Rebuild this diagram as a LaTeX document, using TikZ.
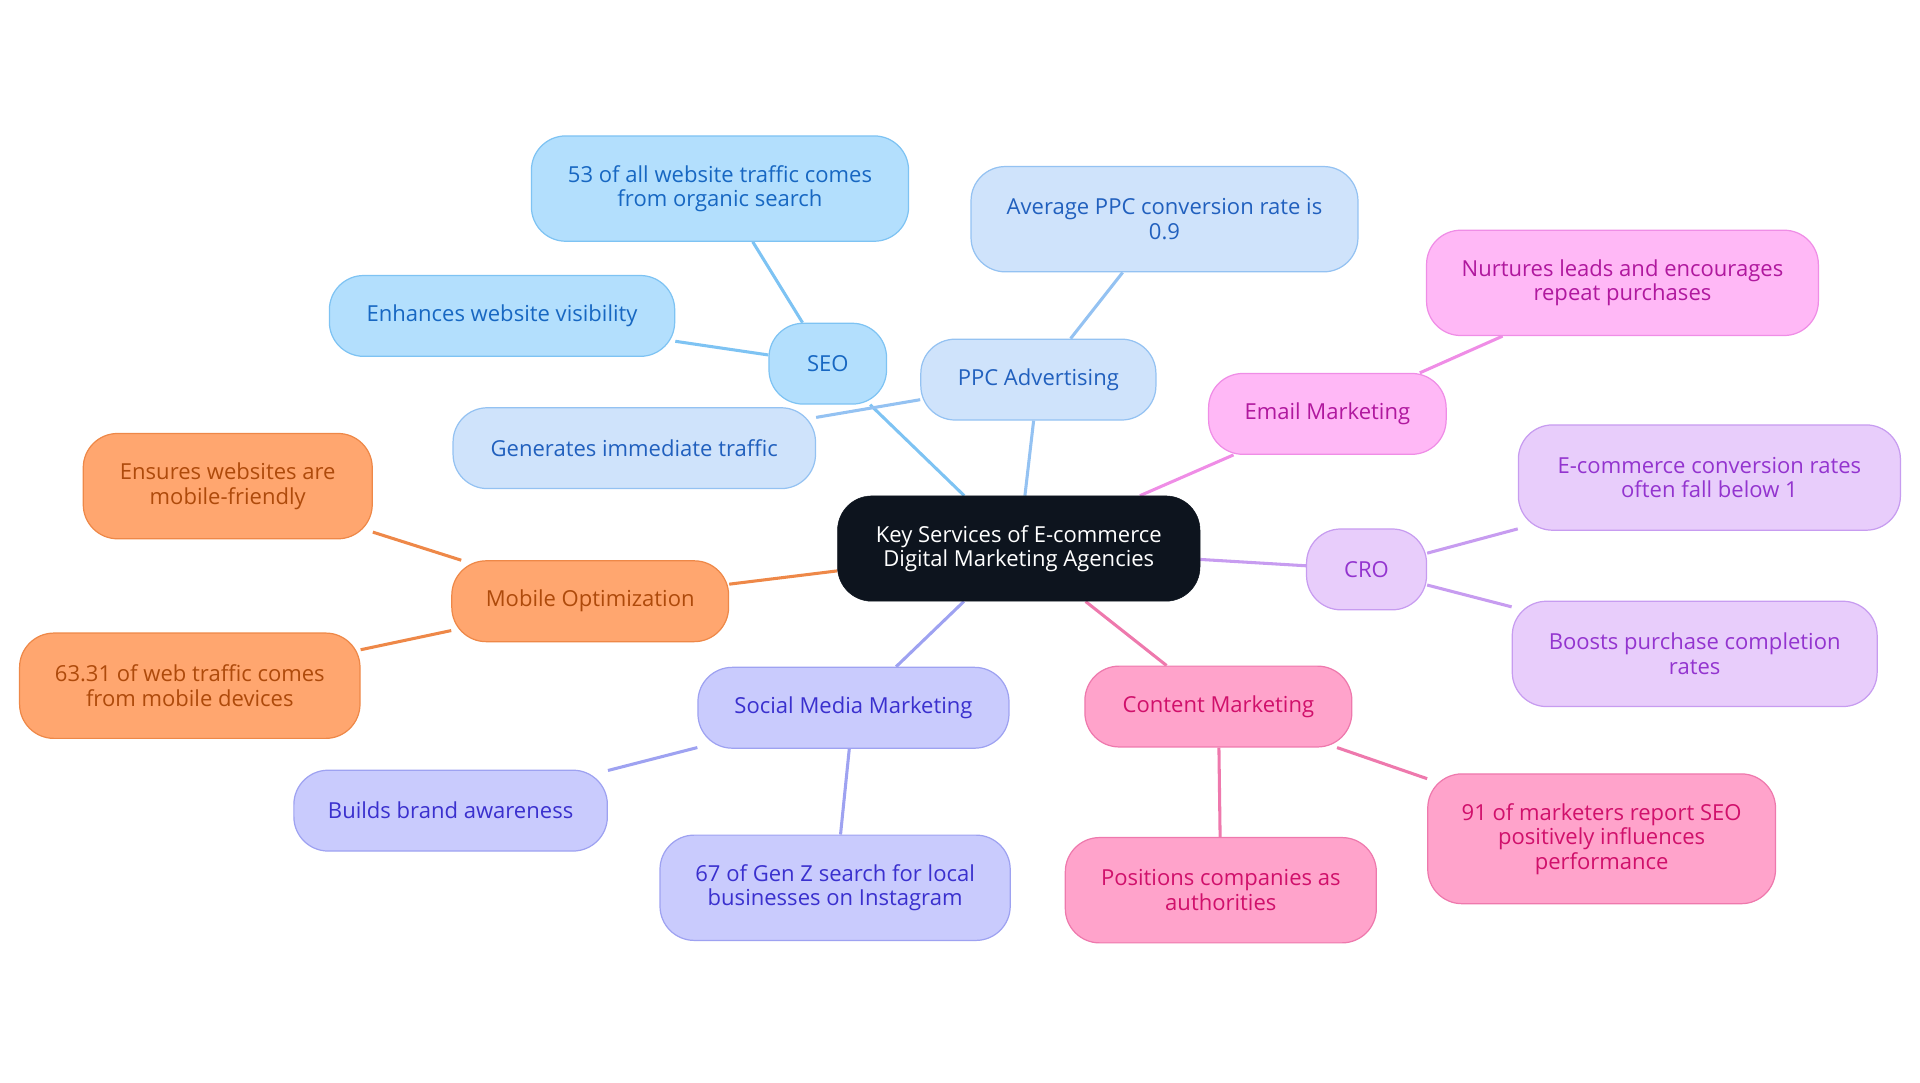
\documentclass[tikz,border=0pt]{standalone}
\usepackage{fontspec}
\setmainfont{Open Sans}
\usetikzlibrary{backgrounds}
\definecolor{seoF}{HTML}{B3DFFD}\definecolor{seoD}{HTML}{7EC3F3}\definecolor{seoT}{HTML}{1767C2}
\definecolor{ppcF}{HTML}{CFE3FB}\definecolor{ppcD}{HTML}{94C2F2}\definecolor{ppcT}{HTML}{2160BE}
\definecolor{emF}{HTML}{FFB8F6}\definecolor{emD}{HTML}{EF8DE6}\definecolor{emT}{HTML}{B0189E}
\definecolor{crF}{HTML}{E8CDFB}\definecolor{crD}{HTML}{C79CF0}\definecolor{crT}{HTML}{9334CF}
\definecolor{coF}{HTML}{FFA3CB}\definecolor{coD}{HTML}{EE79AD}\definecolor{coT}{HTML}{D0106B}
\definecolor{soF}{HTML}{C9CBFD}\definecolor{soD}{HTML}{9EA2F1}\definecolor{soT}{HTML}{3A30CE}
\definecolor{moF}{HTML}{FFA66F}\definecolor{moD}{HTML}{EE8848}\definecolor{moT}{HTML}{AE4A0B}
\definecolor{ctr}{HTML}{0D141E}
\tikzset{
 box/.style={rounded corners=28pt, draw=#1D, fill=#1F, text=#1T, line width=1pt, align=center, font=\fontsize{18}{20}\selectfont, inner sep=0pt},
 ln/.style={line width=2.5pt, draw=#1D}
}
\newcommand{\bx}[6]{\node[box=#1, minimum width=#4pt, minimum height=#5pt] (#2) at (#3) {#6};}
\begin{document}
\begin{tikzpicture}[x=1pt,y=-1pt]
\useasboundingbox (0,0) rectangle (1568,884);
\node[rounded corners=28pt, fill=ctr, draw=ctr, text=white, align=center, font=\fontsize{18}{20}\selectfont, minimum width=296pt, minimum height=86pt, inner sep=0pt] (c) at (832,448) {Key Services of E-commerce\\Digital Marketing Agencies};
\bx{seo}{seo}{676,297}{96}{66}{SEO}
\bx{seo}{s1}{588,154}{308}{86}{53 of all website traffic comes\\from organic search}
\bx{seo}{s2}{410,258}{282}{66}{Enhances website visibility}
\bx{ppc}{ppc}{848,310}{192}{66}{PPC Advertising}
\bx{ppc}{p1}{951,179}{316}{86}{Average PPC conversion rate is\\0.9}
\bx{ppc}{p2}{518,366}{296}{66}{Generates immediate traffic}
\bx{em}{em}{1084,338}{194}{66}{Email Marketing}
\bx{em}{e1}{1325,231}{320}{86}{Nurtures leads and encourages\\repeat purchases}
\bx{cr}{cr}{1116,465}{98}{66}{CRO}
\bx{cr}{r1}{1396,390}{312}{86}{E-commerce conversion rates\\often fall below 1}
\bx{cr}{r2}{1384,534}{298}{86}{Boosts purchase completion\\rates}
\bx{co}{co}{995,577}{218}{66}{Content Marketing}
\bx{co}{o1}{997,727}{254}{86}{Positions companies as\\authorities}
\bx{co}{o2}{1308,685}{284}{106}{91 of marketers report SEO\\positively influences\\performance}
\bx{so}{so}{697,578}{254}{66}{Social Media Marketing}
\bx{so}{a1}{368,662}{256}{66}{Builds brand awareness}
\bx{so}{a2}{682,725}{286}{86}{67 of Gen Z search for local\\businesses on Instagram}
\bx{mo}{mo}{482,491}{226}{66}{Mobile Optimization}
\bx{mo}{m1}{186,397}{236}{86}{Ensures websites are\\mobile-friendly}
\bx{mo}{m2}{155,560}{278}{86}{63.31 of web traffic comes\\from mobile devices}
\begin{scope}[on background layer]
\draw[ln=seo] (c) -- (seo) (seo) -- (s1) (seo) -- (s2);
\draw[ln=ppc] (c) -- (ppc) (ppc) -- (p1) (ppc) -- (p2);
\draw[ln=em] (c) -- (em) (em) -- (e1);
\draw[ln=cr] (c) -- (cr) (cr) -- (r1) (cr) -- (r2);
\draw[ln=co] (c) -- (co) (co) -- (o1) (co) -- (o2);
\draw[ln=so] (c) -- (so) (so) -- (a1) (so) -- (a2);
\draw[ln=mo] (c) -- (mo) (mo) -- (m1) (mo) -- (m2);
\end{scope}
\end{tikzpicture}
\end{document}
